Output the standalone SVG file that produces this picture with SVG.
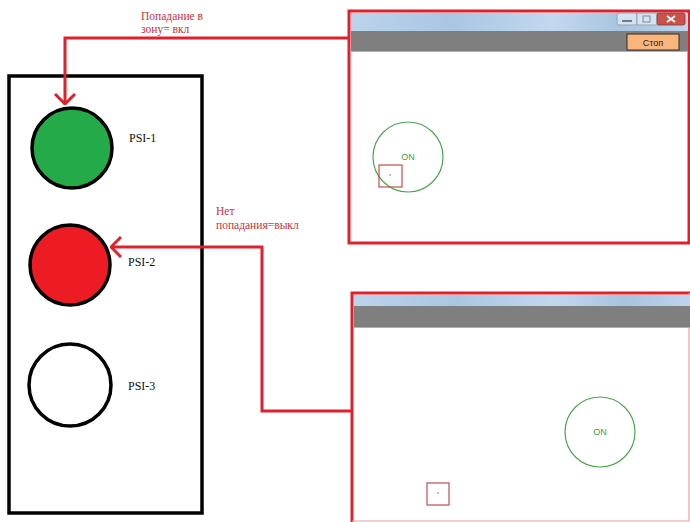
<svg xmlns="http://www.w3.org/2000/svg" width="690" height="522" viewBox="0 0 690 522">
<defs>
<linearGradient id="tb" x1="0" y1="0" x2="1" y2="0">
<stop offset="0" stop-color="#bcd3ec"/><stop offset="0.3" stop-color="#a9c6e3"/><stop offset="0.6" stop-color="#c2d8ee"/><stop offset="0.8" stop-color="#a8c4e0"/><stop offset="1" stop-color="#bdd4ec"/>
</linearGradient>
<marker id="chev" viewBox="0 0 12 22" refX="11" refY="11" markerWidth="12" markerHeight="22" markerUnits="userSpaceOnUse" orient="auto">
<path d="M1,1 L11,11 L1,21" fill="none" stroke="#e0202c" stroke-width="3"/>
</marker>
<style>
.lamp{stroke:#000;stroke-width:3.5}
.psi{font-family:"Liberation Serif",serif;font-size:12px;fill:#111}
.note{font-family:"Liberation Serif",serif;font-size:11.5px;fill:#c8323c}
.conn{fill:none;stroke:#e0202c;stroke-width:3}
.frame{fill:#fff;stroke:#e0202c;stroke-width:3}
.zone{fill:none;stroke:#4aa64e;stroke-width:1.2}
.on{font-family:"Liberation Sans",sans-serif;font-size:9px;fill:#3f9a45}
.sq{fill:none;stroke:#c0504d;stroke-width:1.2}
</style>
</defs>
<rect width="690" height="522" fill="#fff"/>

<g id="panel">
<rect x="9" y="76" width="193" height="437" fill="none" stroke="#000" stroke-width="3.5"/>
</g>
<g id="psi1">
<circle cx="72" cy="148" r="40" fill="#24aa48" class="lamp"/>
<text x="129" y="142" class="psi">PSI-1</text>
</g>
<g id="psi2">
<circle cx="70" cy="265" r="40" fill="#ed1c24" class="lamp"/>
<text x="128" y="266" class="psi">PSI-2</text>
</g>
<g id="psi3">
<circle cx="70" cy="385" r="41" fill="#fff" class="lamp"/>
<text x="128" y="390" class="psi">PSI-3</text>
</g>

<g id="window1">
<rect x="349" y="11" width="340" height="232" class="frame"/>
<rect x="351" y="13" width="337" height="18" fill="url(#tb)"/>
<rect x="351" y="31" width="337" height="20" fill="#7f7f7f"/>
<line x1="351" y1="51.5" x2="688" y2="51.5" stroke="#b0b0b0" stroke-width="1"/>
<rect x="617" y="13" width="20" height="12" rx="2" fill="#d5e2f0" stroke="#8898aa" stroke-width="0.8"/>
<rect x="637" y="13" width="20" height="12" fill="#d5e2f0" stroke="#8898aa" stroke-width="0.8"/>
<rect x="657" y="13" width="28" height="12" rx="2" fill="#c9524a" stroke="#8a3a35" stroke-width="0.8"/>
<line x1="622" y1="21" x2="632" y2="21" stroke="#4a5a6a" stroke-width="1.5"/>
<rect x="643" y="16" width="7" height="6" fill="none" stroke="#7a8a9a" stroke-width="1"/>
<path d="M667,16 L675,22 M675,16 L667,22" stroke="#fff" stroke-width="1.8"/>
<rect x="627" y="34" width="52" height="16" fill="#fbb57c" stroke="#3a2a1a" stroke-width="1"/>
<text x="653" y="46" text-anchor="middle" font-family="'Liberation Sans',sans-serif" font-size="9" fill="#222">Стоп</text>
<circle cx="408" cy="157" r="35" class="zone"/>
<text x="408" y="160" text-anchor="middle" class="on">ON</text>
<rect x="379" y="165" width="23" height="22" class="sq"/>
<circle cx="390" cy="175" r="0.8" fill="#c0504d"/>
</g>

<g id="window2">
<rect x="352" y="293" width="338" height="231" fill="#fff"/>
<path d="M352,524 V293 H690" fill="none" stroke="#e0202c" stroke-width="3"/>
<path d="M689,293 V521 H352" fill="none" stroke="#e8a0a8" stroke-width="1.2"/>
<rect x="354" y="295" width="336" height="11" fill="url(#tb)"/>
<rect x="354" y="306" width="336" height="21" fill="#7f7f7f"/>
<line x1="354" y1="327.5" x2="690" y2="327.5" stroke="#b0b0b0" stroke-width="1"/>
<circle cx="600" cy="432" r="35" class="zone"/>
<text x="600" y="435" text-anchor="middle" class="on">ON</text>
<rect x="427" y="483" width="22" height="22" class="sq"/>
<circle cx="438" cy="493" r="0.8" fill="#c0504d"/>
</g>

<g id="connectors">
<path d="M349,38 H65 V104" class="conn" marker-end="url(#chev)"/>
<path d="M352,411 H262 V247 H111" class="conn" marker-end="url(#chev)"/>
</g>
<g id="labels">
<text class="note"><tspan x="141" y="20">Попадание в</tspan><tspan x="141" y="33">зону= вкл</tspan></text>
<text class="note"><tspan x="216" y="215">Нет</tspan><tspan x="216" y="229">попадания=выкл</tspan></text>
</g>
</svg>
